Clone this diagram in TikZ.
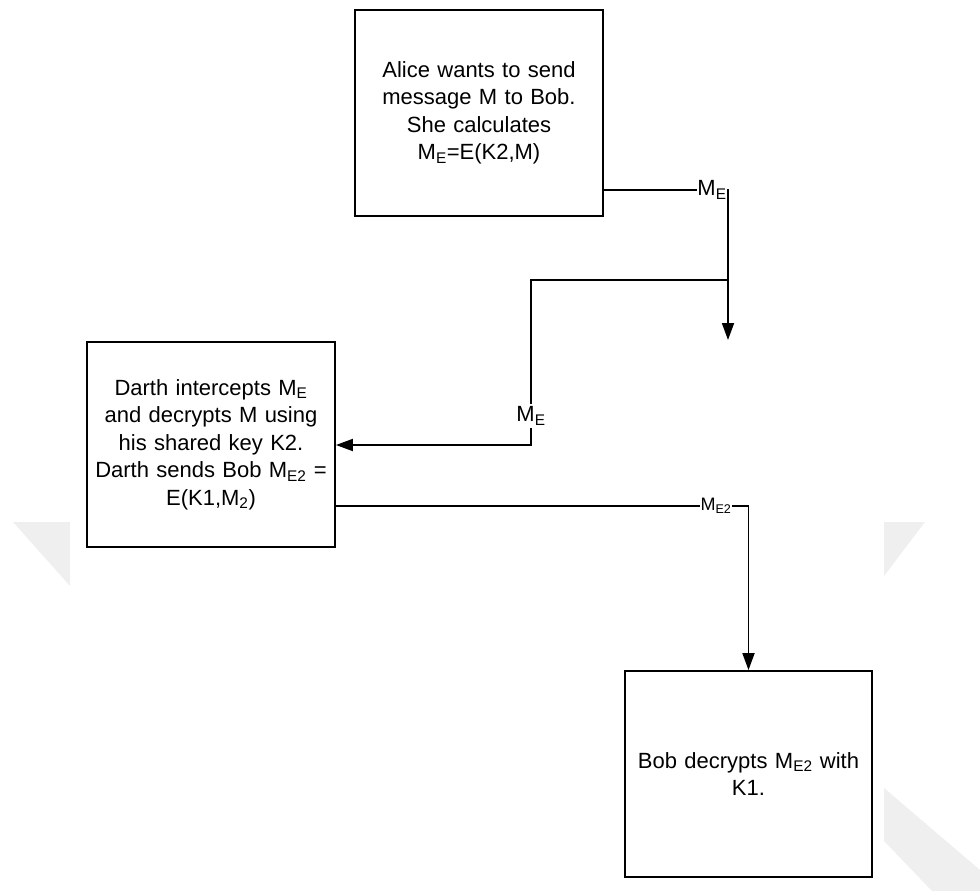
\documentclass[tikz,border=0pt]{standalone}
\usepackage{fontspec}
\setmainfont{Liberation Sans}
\usetikzlibrary{arrows.meta}
\definecolor{wmgrey}{HTML}{EFEFEF}
\tikzset{
  stepbox/.style={draw=black, line width=1.8pt, fill=white, minimum width=248pt,
    minimum height=206pt, text width=246pt, align=center, inner sep=0pt,
    font=\fontsize{22pt}{27.5pt}\selectfont},
  flow/.style={draw=black, line width=1.8pt},
  flowarrow/.style={flow, -{Triangle[length=17pt,width=12pt]}},
  flowlabel/.style={fill=white, inner xsep=0.5pt, inner ysep=3pt,
    font=\fontsize{22pt}{26pt}\selectfont},
  smalllabel/.style={fill=white, inner xsep=0.5pt, inner ysep=2pt,
    font=\fontsize{18pt}{21pt}\selectfont},
}
\begin{document}
\begin{tikzpicture}[x=1pt, y=-1pt]
\useasboundingbox (0,0) rectangle (980,891);

% faint background wedges
\fill[wmgrey] (13,522) -- (70,522) -- (70,586) -- cycle;
\fill[wmgrey] (884,522) -- (925,522) -- (884,576) -- cycle;
\fill[wmgrey] (884,788) -- (980,870) -- (980,891) -- (932,891) -- (884,841) -- cycle;

% the three parties
\node[stepbox] (alice) at (479,113) {Alice wants to send\\message M to Bob.\\She calculates\\M\textsubscript{E}=E(K2,M)};
\node[stepbox, minimum height=205pt] (darth) at (211,444.5) {Darth intercepts M\textsubscript{E}\\and decrypts M using\\his shared key K2.\\Darth sends Bob M\textsubscript{E2} =\\E(K1,M\textsubscript{2})};
\node[stepbox, minimum width=247pt] (bob) at (748.5,774) {Bob decrypts M\textsubscript{E2} with\\K1.};

% Alice sends M_E
\coordinate (corner) at (728,190);
\coordinate (split) at (728,280);
\coordinate (drop) at (728,340);
\draw[flowarrow] (alice.east |- corner) -- (corner) -- (drop);
\node[flowlabel] (lblA) at (712,190) {M\textsubscript{E}};

% Darth's tap on the line
\coordinate (tap) at (531,280);
\coordinate (tapdown) at (531,445);
\draw[flowarrow] (split) -- (tap) -- (tapdown) -- (darth.east |- tapdown);
\node[flowlabel] (lblD) at (531,416) {M\textsubscript{E}};

% Darth forwards M_E2 to Bob
\coordinate (bend) at (748.5,506);
\draw[flowarrow] (darth.east |- bend) -- (bend) -- (bob.north);
\node[smalllabel] (lblB) at (716,506) {M\textsubscript{E2}};
\end{tikzpicture}
\end{document}
